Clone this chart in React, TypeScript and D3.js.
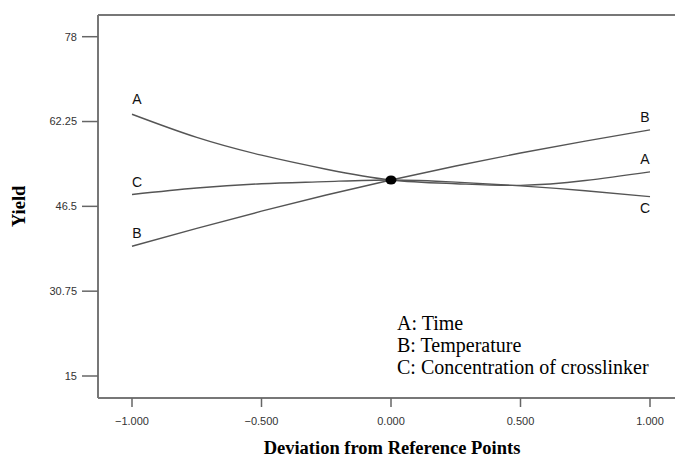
import React from "react";
import * as d3 from "d3";

// Coded deviation from the reference point
const deviation = [-1, -0.75, -0.5, -0.25, 0, 0.25, 0.5, 0.75, 1];
// Predicted yield along each factor trace
const timeYield = [63.6, 59.3, 56.0, 53.4, 51.4, 50.7, 50.4, 51.3, 52.9];
const tempYield = [39.1, 42.4, 45.6, 48.6, 51.4, 54.0, 56.4, 58.6, 60.7];
const crossYield = [48.7, 49.9, 50.7, 51.1, 51.4, 51.0, 50.3, 49.4, 48.3];

const yTicks = [15, 30.75, 46.5, 62.25, 78];
const xTicks = [-1, -0.5, 0, 0.5, 1];
const legendItems = ["A: Time", "B: Temperature", "C: Concentration of crosslinker"];

const W = 675;
const H = 459;
const frameLeft = 98;
const frameTop = 15;
const frameBottom = 398;

export default function App() {
  const x = d3.scaleLinear().domain([-1, 1]).range([132, 650]);
  const y = d3.scaleLinear().domain([15, 78]).range([376, 36.7]);

  const line = d3
    .line<number>()
    .x((_, i) => x(deviation[i]))
    .y((d) => y(d))
    .curve(d3.curveNatural);

  const series = [
    { key: "A", values: timeYield },
    { key: "B", values: tempYield },
    { key: "C", values: crossYield },
  ];

  const tickFont = "Arial, 'Liberation Sans', sans-serif";
  const serif = "'Times New Roman', 'Liberation Serif', serif";

  const leftLabel: Record<string, number> = { A: -10, B: -8, C: -8 };
  const rightLabel: Record<string, number> = { A: -8, B: -8, C: 16 };

  return (
    <svg
      width={W}
      height={H}
      style={{ position: "absolute", left: 0, top: 0, background: "#fff" }}
    >
      {/* frame (open on the right) */}
      <g stroke="#777" strokeWidth={2} fill="none">
        <line x1={frameLeft} y1={frameTop} x2={W} y2={frameTop} />
        <line x1={frameLeft} y1={frameTop} x2={frameLeft} y2={frameBottom} />
        <line x1={frameLeft} y1={frameBottom} x2={W} y2={frameBottom} />
      </g>

      {/* y axis */}
      {yTicks.map((t) => (
        <g key={t}>
          <line x1={82} x2={frameLeft} y1={y(t)} y2={y(t)} stroke="#666" strokeWidth={1.5} />
          <text
            x={77}
            y={y(t)}
            dy="0.35em"
            textAnchor="end"
            fontFamily={tickFont}
            fontSize={11}
            fill="#333"
          >
            {t}
          </text>
        </g>
      ))}

      {/* x axis */}
      {xTicks.map((t) => (
        <g key={t}>
          <line x1={x(t)} x2={x(t)} y1={frameBottom} y2={407} stroke="#666" strokeWidth={1.5} />
          <text
            x={x(t)}
            y={425}
            textAnchor="middle"
            fontFamily={tickFont}
            fontSize={11}
            fill="#333"
          >
            {d3.format(".3f")(t)}
          </text>
        </g>
      ))}

      {/* traces */}
      {series.map((s) => (
        <g key={s.key}>
          <path d={line(s.values) || ""} fill="none" stroke="#555" strokeWidth={1.4} />
          <text
            x={x(-1) + 5}
            y={y(s.values[0]) + leftLabel[s.key]}
            textAnchor="middle"
            fontFamily={tickFont}
            fontSize={14}
            fill="#111"
          >
            {s.key}
          </text>
          <text
            x={x(1) - 5}
            y={y(s.values[s.values.length - 1]) + rightLabel[s.key]}
            textAnchor="middle"
            fontFamily={tickFont}
            fontSize={14}
            fill="#111"
          >
            {s.key}
          </text>
        </g>
      ))}

      {/* reference point */}
      <ellipse cx={x(0)} cy={y(timeYield[4])} rx={5.5} ry={4.5} fill="#000" />

      {/* legend */}
      {legendItems.map((t, i) => (
        <text
          key={t}
          x={397}
          y={330 + i * 22}
          fontFamily={serif}
          fontSize={20}
          fill="#000"
        >
          {t}
        </text>
      ))}

      {/* axis titles */}
      <text
        x={392}
        y={454}
        textAnchor="middle"
        fontFamily={serif}
        fontSize={18.5}
        fontWeight="bold"
      >
        Deviation from Reference Points
      </text>
      <text
        transform={`translate(25, ${y(46.5)}) rotate(-90)`}
        textAnchor="middle"
        fontFamily={serif}
        fontSize={18.5}
        fontWeight="bold"
      >
        Yield
      </text>
    </svg>
  );
}
